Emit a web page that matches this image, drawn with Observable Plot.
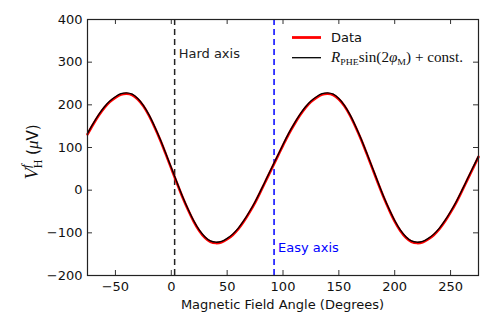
<!DOCTYPE html>
<html>
<head>
<meta charset="utf-8">
<script src="https://cdn.jsdelivr.net/npm/d3@7"></script>
<script src="https://cdn.jsdelivr.net/npm/@observablehq/plot@0.6"></script>
<style>
  html, body { margin: 0; padding: 0; background: #fff; }
  #wrap { position: relative; width: 491px; height: 327px; }
</style>
</head>
<body>
<div id="wrap"></div>
<script>
// Magnetic field angle (degrees)
const angles = [-75,-70,-65,-60,-55,-50,-45,-40,-35,-30,-25,-20,-15,-10,-5,0,5,10,15,20,25,30,35,40,
  45,50,55,60,65,70,75,80,85,90,95,100,105,110,115,120,125,130,135,140,
  145,150,155,160,165,170,175,180,185,190,195,200,205,210,215,220,
  225,230,235,240,245,250,255,260,265,270,275];
// Fit: R_PHE sin(2 phi_M) + const  (uV)
const fitValues = [133,156,177,195,209,219,226,228,225,215,199,177,150,120,87,53,19,-14,-44,-71,-93,-109,-119,-122,
  -120,-113,-103,-89,-71,-50,-27,-1,26,53,80,107,133,156,177,195,209,219,226,228,
  225,215,199,177,150,120,87,53,19,-14,-44,-71,-93,-109,-119,-122,
  -120,-113,-103,-89,-71,-50,-27,-1,26,53,80];
// Measured data (uV)
const dataValues = [131,154,175,193,207,217,224,226,223,213,197,175,148,118,85,51,17,-16,-46,-73,-95,-111,-121,-124,
  -122,-115,-105,-91,-73,-52,-29,-3,24,51,78,105,131,154,175,193,207,217,224,226,
  223,213,197,175,148,118,85,51,17,-16,-46,-73,-95,-111,-121,-124,
  -122,-115,-105,-91,-73,-52,-29,-3,24,51,78];
// Reference axes
const axisAngles = [3, 92];
const axisNames = ["Hard axis", "Easy axis"];
const axisColors = ["#222", "blue"];
const axisLabelY = [319, -135];
// Ticks
const xTicks = [-50, 0, 50, 100, 150, 200, 250];
const yTicks = [-200, -100, 0, 100, 200, 300, 400];

const W = 491, H = 327;
const mL = 87, mR = 13, mT = 19, mB = 52;
const innerW = W - mL - mR, innerH = H - mT - mB;
const tickLen = 5;

const fitRows = angles.map((a, i) => ({angle: a, v: fitValues[i]}));
const dataRows = angles.map((a, i) => ({angle: a, v: dataValues[i]}));
const axisRows = axisAngles.map((a, i) => ({angle: a, name: axisNames[i], color: axisColors[i], ly: axisLabelY[i]}));

const chart = Plot.plot({
  width: W, height: H,
  marginLeft: mL, marginRight: mR, marginTop: mT, marginBottom: mB,
  style: {fontFamily: "DejaVu Sans", fontSize: "13px", color: "#111", background: "#fff"},
  x: {domain: [-75, 275], ticks: xTicks, label: null},
  y: {domain: [-200, 400], ticks: yTicks, label: null},
  marks: [
    Plot.ruleX(axisRows, {x: "angle", stroke: "color", strokeWidth: 1.5, strokeDasharray: "6,4"}),
    Plot.text(axisRows, {x: "angle", y: "ly", text: "name", fill: "color", textAnchor: "start", dx: 4, fontSize: 13}),
    Plot.line(dataRows, {x: "angle", y: "v", stroke: "red", strokeWidth: 2.6, curve: "catmull-rom"}),
    Plot.line(fitRows, {x: "angle", y: "v", stroke: "black", strokeWidth: 1.3, curve: "catmull-rom"}),
    // inward ticks on all four sides
    Plot.tickX(xTicks, {x: d => d, stroke: "#333", insetTop: innerH - tickLen}),
    Plot.tickX(xTicks, {x: d => d, stroke: "#333", insetBottom: innerH - tickLen}),
    Plot.tickY(yTicks, {y: d => d, stroke: "#333", insetRight: innerW - tickLen}),
    Plot.tickY(yTicks, {y: d => d, stroke: "#333", insetLeft: innerW - tickLen}),
    Plot.axisX(xTicks, {tickSize: 0, tickPadding: 6, fontSize: 13, fill: "#111"}),
    Plot.axisY(yTicks, {tickSize: 0, tickPadding: 5, fontSize: 13, fill: "#111"}),
    Plot.frame({stroke: "#222", strokeWidth: 1.2})
  ]
});

document.getElementById("wrap").appendChild(chart);

const svg = d3.select(chart);
// x axis title
svg.append("text")
  .attr("x", mL + innerW / 2).attr("y", 308.5)
  .attr("text-anchor", "middle")
  .style("font-family", "DejaVu Sans").style("font-size", "13px").attr("fill", "#111")
  .text("Magnetic Field Angle (Degrees)");

// y axis title: V_H^f (μV)
const yl = svg.append("text")
  .attr("transform", "translate(38,152) rotate(-90)")
  .attr("text-anchor", "middle")
  .attr("fill", "#111")
  .style("font-size", "16px");
yl.append("tspan").style("font-family", "Liberation Serif").style("font-style", "italic").style("font-size", "19px").text("V");
yl.append("tspan").style("font-family", "Liberation Serif").style("font-style", "italic").style("font-size", "13px").attr("dy", -8).text("f");
yl.append("tspan").style("font-family", "Liberation Serif").style("font-size", "12px").attr("dx", -4).attr("dy", 12).text("H");
yl.append("tspan").style("font-family", "DejaVu Sans").style("font-size", "15px").attr("dy", -4).text(" (");
yl.append("tspan").style("font-family", "Liberation Serif").style("font-style", "italic").style("font-size", "17px").text("μ");
yl.append("tspan").style("font-family", "DejaVu Sans").style("font-size", "15px").text("V)");

// legend
const lg = svg.append("g").attr("text-anchor", "start");
lg.append("line").attr("x1", 292).attr("x2", 321).attr("y1", 37.5).attr("y2", 37.5).attr("stroke", "red").attr("stroke-width", 2.8);
lg.append("text").attr("x", 331).attr("y", 42.2).attr("text-anchor", "start")
  .style("font-family", "DejaVu Sans").style("font-size", "13px").attr("fill", "#111").text("Data");
lg.append("line").attr("x1", 292).attr("x2", 321).attr("y1", 57.7).attr("y2", 57.7).attr("stroke", "black").attr("stroke-width", 1.3);
const mt = lg.append("text").attr("x", 331).attr("y", 62).attr("fill", "#111").attr("text-anchor", "start")
  .style("font-family", "Liberation Serif").style("font-size", "14px")
  .attr("textLength", 132).attr("lengthAdjust", "spacingAndGlyphs");
mt.append("tspan").style("font-style", "italic").text("R");
mt.append("tspan").style("font-size", "9px").attr("dy", 3).text("PHE");
mt.append("tspan").attr("dy", -3).text("sin(2");
mt.append("tspan").style("font-style", "italic").text("φ");
mt.append("tspan").style("font-size", "9px").attr("dy", 3).text("M");
mt.append("tspan").attr("dy", -3).text(") + const.");
</script>
</body>
</html>
